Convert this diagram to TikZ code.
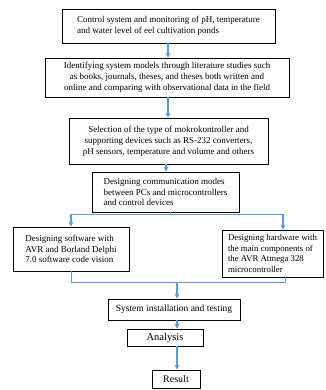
\documentclass[tikz,border=0pt]{standalone}
\usepackage{fontspec}
\setmainfont{Liberation Serif}
\usetikzlibrary{positioning, arrows.meta}

\definecolor{flowblue}{RGB}{91,155,213}

\begin{document}
\begin{tikzpicture}[
    x=1pt, y=1pt,
    >={Stealth[length=5pt, width=5pt]},
    stage/.style={
        rectangle,
        draw,
        line width=0.9pt,
        inner sep=2pt,
        font=\fontsize{9}{10.8}\selectfont
    },
    arrow/.style={->, flowblue, line width=1.4pt},
    branch/.style={flowblue, line width=0.7pt}
]
\useasboundingbox (0,0) rectangle (325,-390);

% Main stages
\node[stage, minimum width=213, minimum height=34, align=left] (ctrl) at (168.5,-26) {Control system and monitoring of pH, temperature\\and water level of eel cultivation ponds};
\node[stage, minimum width=244, minimum height=39, align=center] (ident) at (167,-77.5) {Identifying system models through literature studies such\\as books, journals, theses, and theses both written and\\online and comparing with observational data in the field};
\node[stage, minimum width=199, minimum height=46, align=center] (select) at (168.5,-141) {Selection of the type of mokrokontroller and\\supporting devices such as RS-232 converters,\\pH sensors, temperature and volume and others};
\node[stage, minimum width=147, minimum height=40, align=left] (comm) at (165.5,-192) {Designing communication modes\\between PCs and microcontrollers\\and control devices};

% Software and hardware design
\node[stage, minimum width=116, minimum height=44, align=left] (soft) at (71,-249) {Designing software with\\AVR and Borland Delphi\\7.0 software code vision};
\node[stage, minimum width=101, minimum height=47, align=left, inner sep=1.5pt, font=\fontsize{8.8}{10.6}\selectfont] (hard) at (272.5,-253.5) {Designing hardware with\\the main components of\\the AVR Atmega 328\\microcontroller};

% Final stages
\node[stage, minimum width=132, minimum height=21, font=\fontsize{9.5}{11}\selectfont] (test) at (174,-309.5) {System installation and testing};
\node[stage, minimum width=76, minimum height=17, font=\fontsize{10.5}{12}\selectfont] (anal) at (165,-337.5) {Analysis};
\node[stage, minimum width=48, minimum height=18, font=\fontsize{10}{12}\selectfont] (res) at (176,-379) {Result};

% Helper coordinates for the connectors
\coordinate (topx) at (168,0);
\coordinate (botx) at (177,0);
\coordinate (split) at (170,-214);
\coordinate (join) at (177,-282);

% Arrows - upper chain
\draw[arrow] (ctrl.south -| topx) -- (ident.north -| topx);
\draw[arrow] (ident.south -| topx) -- (select.north -| topx);
\draw[arrow] (select.south -| 166,0) -- (comm.north -| 166,0);

% Split into software and hardware
\draw[branch] (comm.south -| split) -- (split);
\draw[branch] (soft.north |- split) -- (283,-214);
\draw[arrow] (soft.north |- split) -- (soft.north);
\draw[arrow] (283,-214) -- (hard.north -| 283,0);

% Join again
\draw[branch] (soft.south) -- (soft.south |- join) -- (285,-282) -- (hard.south -| 285,0);
\draw[arrow] (join) -- (test.north -| botx);

% Arrows - lower chain
\draw[arrow] (test.south -| botx) -- (anal.north -| botx);
\draw[arrow] (anal.south -| botx) -- (res.north -| botx);

\end{tikzpicture}
\end{document}
